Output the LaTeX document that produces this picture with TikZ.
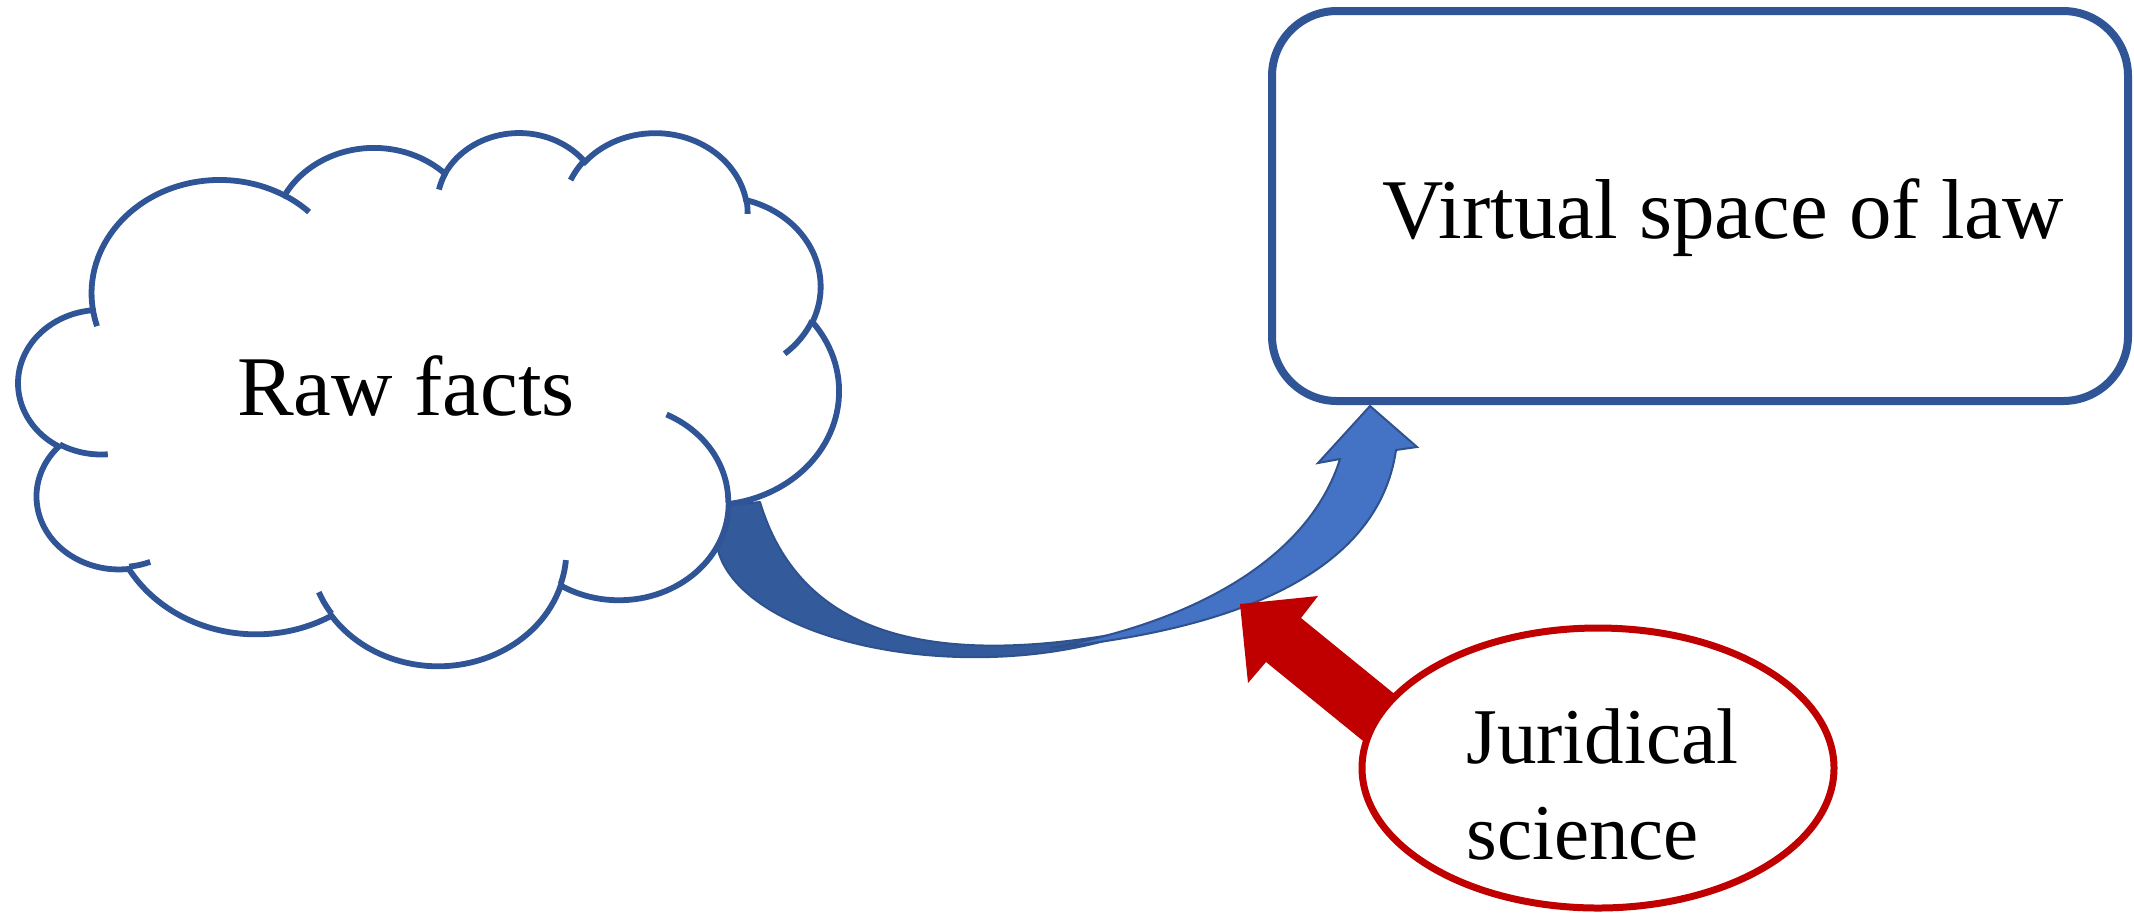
\documentclass[tikz,border=0pt]{standalone}
\usepackage{fontspec}
\setmainfont{Liberation Serif}
\usetikzlibrary{shapes.geometric}
\definecolor{bline}{RGB}{47,85,151}
\definecolor{aline}{RGB}{47,82,143}
\definecolor{afront}{RGB}{68,114,196}
\definecolor{aback}{RGB}{51,90,154}
\definecolor{jred}{RGB}{192,0,0}
\tikzset{
  oarc/.style n args={4}{x radius=#1, y radius=#2,
    start angle={atan2((#1)*sin(#3),(#2)*cos(#3))},
    delta angle={Mod(atan2((#1)*sin((#3)+(#4)),(#2)*cos((#3)+(#4)))-atan2((#1)*sin(#3),(#2)*cos(#3)),360)}},
  cloudline/.style={draw=bline, line width=2.9pt},
  lawbox/.style={draw=bline, line width=4pt, rounded corners=32.5pt, rectangle,
    minimum width=428pt, minimum height=195pt, inner sep=0pt, fill=white},
  jurell/.style={draw=jred, line width=3.5pt, ellipse, minimum width=236pt,
    minimum height=140pt, inner sep=0pt, fill=white},
  bigtxt/.style={font=\fontsize{42.5}{51}\selectfont, inner sep=0pt},
  jurtxt/.style={font=\fontsize{39.5}{48}\selectfont, inner sep=0pt, align=left},
  backband/.style={fill=aback, draw=aline, line width=1pt, line join=round},
  frontband/.style={fill=afront, draw=aline, line width=1pt, line join=miter},
  redarrow/.style={fill=jred, draw=none}
}
\begin{document}
\begin{tikzpicture}[x=0.5pt, y=-0.5pt]
\fill[white] (0,0) rectangle (2134,912);
\useasboundingbox (0,0) rectangle (2134,912);

% curved blue arrow (back part)
\coordinate (bluetail) at (760,502);
\filldraw[backband] (722,506) -- (bluetail) .. controls (800,635) and (930,670) .. (1138,630)
  arc[start angle=51, end angle=194, x radius=259, y radius=122] -- cycle;
% curved blue arrow (front part with head)
\coordinate (bluestart) at (1050,648);
\coordinate (bluetip) at (1370,406);
\filldraw[frontband] (bluestart) .. controls (1230,630) and (1378,575) .. (1396,450)
  -- (1417,447) -- (bluetip) -- (1318,463) -- (1340,459)
  .. controls (1310,555) and (1200,621) .. (bluestart) -- cycle;

% cloud
\begin{scope}[shift={(18.7,131.3)}, x=0.09491pt, y=-0.06169pt]
\draw[cloudline, fill=white] (390,1437)
  arc[oarc={675.3}{919.0}{-190.4875}{123.7805}]
  arc[oarc={533.3}{726.7}{-144.1024}{89.9452}]
  arc[oarc={436.5}{594.5}{-145.8079}{99.7230}]
  arc[oarc={485.7}{659.5}{-130.9861}{117.2417}]
  arc[oarc={533.3}{727.3}{-78.7089}{109.0269}]
  arc[oarc={677.5}{922.0}{-46.2673}{130.2690}]
  arc[oarc={578.5}{786.7}{0.6250}{114.0333}]
  arc[oarc={675.2}{921.5}{22.4516}{115.1726}]
  arc[oarc={772.0}{1054.3}{66.2426}{75.7110}]
  arc[oarc={436.0}{591.8}{-274.9421}{146.7356}]
  arc[oarc={434.5}{594.5}{-246.8285}{152.5189}]
  -- cycle;
\draw[cloudline]
  (469.3,2617.7) arc[oarc={434.5}{594.5}{86.742}{26.4295}]
  (692.8,3489.9) arc[oarc={436.0}{591.8}{73.6105}{11.4475}]
  (1647.8,3909.0) arc[oarc={675.2}{921.5}{137.6242}{14.0811}]
  (2882.7,3475.1) arc[oarc={675.2}{921.5}{6.4533}{15.9984}]
  (3412.9,2295.4) arc[oarc={578.5}{786.7}{-70.2924}{70.9174}]
  (4179.8,1535.4) arc[oarc={533.3}{727.3}{30.3180}{27.7515}]
  (3832.4,542.6) arc[oarc={485.7}{659.5}{-13.7443}{14.8589}]
  (2907.8,395.2) arc[oarc={485.7}{659.5}{-149.1815}{18.1954}]
  (2214.1,472.0) arc[oarc={436.5}{594.5}{-163.4943}{17.6864}]
  (1400.0,519.2) arc[oarc={675.3}{919.0}{-66.7070}{12.3194}]
  (412.7,1578.9) arc[oarc={675.3}{919.0}{157.6544}{11.8605}];
\end{scope}
\node[bigtxt, anchor=base] (raw) at (406,415) {Raw facts};

% box
\node[lawbox] (law) at (1700,206) {};
\node[bigtxt, anchor=base] (lawtext) at (1723,238) {Virtual space of law};

% red arrow
\coordinate (redtip) at (1240,604);
\fill[redarrow] (redtip) -- (1318,596) -- (1301,618) -- (1456,744) -- (1421,788) -- (1266,662) -- (1248,683) -- cycle;

% ellipse
\node[jurell] (jur) at (1598,768) {};
\node[jurtxt, anchor=base west] (jurtext) at (1466,859) {Juridical\\science};
\end{tikzpicture}
\end{document}
